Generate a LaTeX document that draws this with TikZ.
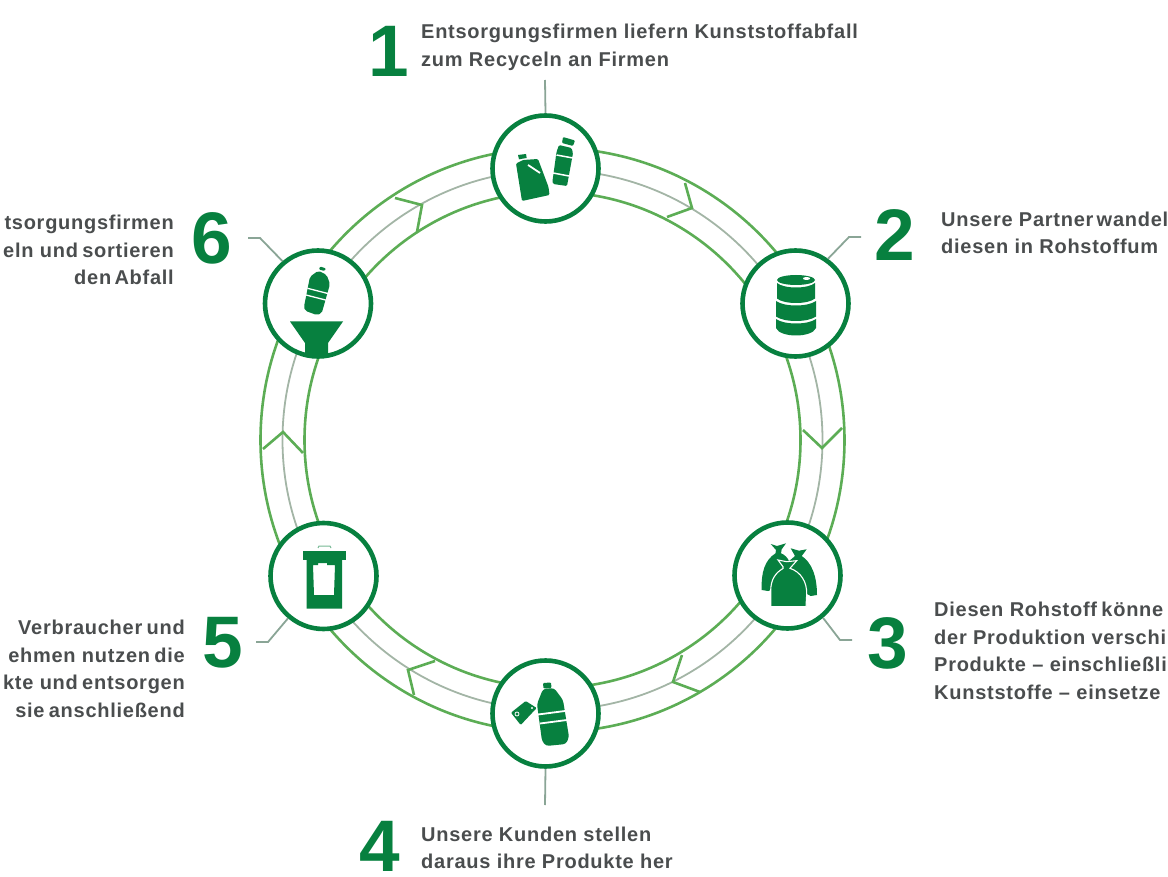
\documentclass[tikz,border=0pt]{standalone}
\usepackage{fontspec}
\setmainfont{Liberation Sans}
\newfontfamily\capfont{Liberation Sans}[LetterSpace=3.7]
\newcommand{\nar}[1]{\hspace{-#1pt}}
\definecolor{dgreen}{HTML}{07803F}
\definecolor{rgreen}{HTML}{5CAD55}
\definecolor{midgrey}{HTML}{A3B5A6}
\definecolor{leader}{HTML}{8AA596}
\definecolor{txt}{HTML}{4A4D4E}
\tikzset{
  station/.style={circle,draw=dgreen,line width=4.6pt,fill=white,minimum size=106pt,inner sep=0pt},
  ringline/.style={draw=rgreen,line width=2.6pt},
  midline/.style={draw=midgrey,line width=1.8pt},
  chev/.style={draw=rgreen,line width=2.6pt,line join=miter},
  leaderline/.style={draw=leader,line width=1.8pt},
  bignum/.style={text=dgreen,font=\bfseries\fontsize{73}{73}\selectfont,inner sep=0pt},
  caption/.style={text=txt,font=\capfont\bfseries\fontsize{20}{27.6}\selectfont,inner sep=0pt},
  icon/.style={fill=dgreen,draw=none},
  cut/.style={draw=white,line width=1.5pt,line cap=butt},
}
\begin{document}
\begin{tikzpicture}[x=1pt,y=-1pt]
\useasboundingbox (0,0) rectangle (1168,877);
% ring
\coordinate (ctr) at (552.5,440);
\draw[ringline] (ctr) circle[radius=292];
\draw[ringline] (ctr) circle[radius=248];
\draw[midline] (ctr) circle[radius=270];
% chevrons
\draw[chev] (803,430) -- (822,448) -- (842,428);
\draw[chev] (263,449) -- (283,432) -- (303,453);
\draw[chev] (685,183) -- (692,208) -- (667,217);
\draw[chev] (395,198) -- (422,205) -- (417,232);
\draw[chev] (682,655) -- (673,682) -- (700,692);
\draw[chev] (435,661) -- (408,670) -- (414,695);
% stations
\node[station] (s1) at (545.5,168.5) {};
\node[station] (s2) at (795.5,303.5) {};
\node[station] (s3) at (787.5,575.5) {};
\node[station] (s4) at (545.5,713.5) {};
\node[station] (s5) at (323.5,576) {};
\node[station] (s6) at (318,303.5) {};
% leaders
\coordinate (l1) at (545,80);
\coordinate (l4) at (545,805);
\coordinate (l2a) at (849,237); \coordinate (l2b) at (861,237);
\coordinate (l3a) at (840,640); \coordinate (l3b) at (852,640);
\coordinate (l5a) at (268,642); \coordinate (l5b) at (256,642);
\coordinate (l6a) at (260,238); \coordinate (l6b) at (248,238);
\draw[leaderline] (s1.north) -- (l1);
\draw[leaderline] (s4.south) -- (l4);
\draw[leaderline] (s2.54) -- (l2a) -- (l2b);
\draw[leaderline] (s3.-50) -- (l3a) -- (l3b);
\draw[leaderline] (s5.230) -- (l5a) -- (l5b);
\draw[leaderline] (s6.130) -- (l6a) -- (l6b);
% icon 1: canister and bottle
\fill[icon,rounded corners=1.2pt] (516,163.5) -- (523,160) -- (538,159) -- (548.5,187) -- (549.5,195) -- (522,201) -- cycle;
\fill[icon] (518,155) -- (526,154) -- (526.7,158) -- (519,159.3) -- cycle;
\draw[cut,line width=1.8pt] (528,165) -- (540,173);
\fill[icon,rounded corners=1pt] (563,137) -- (575,140.5) -- (573,146) -- (562,143) -- cycle;
\fill[icon,rounded corners=1.2pt] (559,145) -- (571.5,148) -- (573,153) -- (567,186) -- (553,184) -- (552.5,181) -- (556.5,152) -- cycle;
\draw[cut] (556.5,155) -- (573,158);
\draw[cut] (553,173) -- (569,176);
% icon 2: barrel
\fill[icon] (777,280) arc[start angle=180,end angle=360,x radius=19,y radius=5] arc[start angle=0,end angle=180,x radius=19,y radius=5] -- cycle;
\fill[icon] (777,283) .. controls (784,289) and (808,289) .. (815,283) -- (815,298.5) .. controls (808,304.5) and (784,304.5) .. (777,298.5) -- cycle;
\fill[icon] (776,301) .. controls (784,307) and (808,307) .. (816,301) -- (816,316.5) .. controls (808,322.5) and (784,322.5) .. (776,316.5) -- cycle;
\fill[icon] (776,319) .. controls (784,325) and (808,325) .. (816,319) -- (816,328) .. controls (812,338) and (780,338) .. (776,328) -- cycle;
\fill[white] (806.5,278.5) ellipse[x radius=3.5,y radius=1.5];
% icon 3: bags
\fill[icon] (770.7,544) -- (777,546) -- (786,543.3) -- (781.7,549.3) -- (781,553.3) .. controls (788,556) and (795,565) .. (787,585) -- (768,591) -- (761.7,590) .. controls (761,572) and (765,560) .. (775.5,553.3) -- (776,550) -- cycle;
\fill[icon] (790.7,548.3) -- (799,550.7) -- (806.7,549.3) -- (801.7,556) .. controls (811,562) and (817,575) .. (817,595) -- (810.7,596) -- (790,585) -- (788,562) -- (795,556) -- cycle;
\fill[icon,draw=white,line width=1.1pt] (778,560) -- (786.7,561.7) -- (796.7,560.7) -- (790,568.3) .. controls (801,572) and (807,582) .. (806.7,594) -- (806,606.7) -- (770.7,606.7) -- (770.7,590) .. controls (771,580) and (775,573) .. (783,568.5) -- (783,566.7) -- cycle;
% icon 4: bottle and tag
\fill[icon,rounded corners=1pt] (543,683) -- (551,682.5) -- (551.5,688) -- (543.5,688.5) -- cycle;
\fill[icon,rounded corners=3pt] (543,689) -- (554,688) -- (563,700) -- (569,737) -- (566,744) -- (546,746) -- (542,741) -- (537,704) -- cycle;
\draw[cut,line width=1.8pt] (538,714.5) -- (565,711);
\draw[cut,line width=1.8pt] (540,723.5) -- (567,720);
\fill[icon,rounded corners=1pt] (511,712.7) -- (525.7,701) -- (536.7,708) -- (520.7,725) -- cycle;
\fill[white] (532,708) circle[radius=1.2];
\draw[white,line width=.8pt] (517,714) circle[radius=2];
% icon 5: bin
\draw[dgreen!55,line width=1pt] (318,548) -- (319,546) -- (330,546) -- (331,548);
\fill[icon] (302.5,551) rectangle (345.5,560);
\fill[icon,even odd rule] (306.5,560) rectangle (342,608.5) (313,565) -- (318,565) -- (318,563) -- (327,563) -- (327,565) -- (335,565) -- (334,595) -- (314,595) -- cycle;
% icon 6: funnel and bottle
\fill[icon] (290,321.5) -- (343,321.5) -- (328,343) -- (328,356) -- (305,356) -- (305,343) -- cycle;
\fill[icon,rounded corners=1pt] (320,266.5) -- (326,268.5) -- (324.5,271) -- (319,269.5) -- cycle;
\fill[icon,rounded corners=2pt] (310,276.7) -- (318.3,270.7) -- (326.7,275) -- (330,284) -- (321.7,313.3) -- (316.7,315) -- (305,310.7) -- (304,306.7) -- cycle;
\draw[cut,line width=1.3pt] (307.5,288.3) -- (329,293.8);
\draw[cut,line width=1.3pt] (306,295) -- (327.5,300.5);
% numbers
\node[bignum] (n1) at (389,51.5) {1};
\node[bignum] (n2) at (895,235) {2};
\node[bignum] (n3) at (888,643.5) {3};
\node[bignum] (n4) at (380,846) {4};
\node[bignum] (n5) at (223,643) {5};
\node[bignum] (n6) at (212,238) {6};
% captions
\node[caption,anchor=west,align=left] (t1) at (421,47.5) {Entsorgungsfirmen liefern Kunststoffabfall\\zum Recyceln an Firmen};
\node[caption,anchor=west,align=left] (t2) at (941,233) {Unsere Partner\nar{3} wandel\\diesen in Rohstoffum};
\node[caption,anchor=west,align=left] (t3) at (934,651) {Diesen Rohstoff\nar{2} könne\\der Produktion verschi\\Produkte – einschließli\\Kunststoffe – einsetze};
\node[caption,anchor=west,align=left] (t4) at (421,848) {Unsere Kunden stellen\\daraus ihre Produkte her};
\node[caption,anchor=east,align=right] (t5) at (185,669) {Verbraucher\nar{2} und\\ehmen nutzen\nar{2} die\\kte und\nar{2} entsorgen\\sie\nar{2} anschließend};
\node[caption,anchor=east,align=right] (t6) at (174,250) {tsorgungsfirmen\\eln und\nar{2} sortieren\\den\nar{3} Abfall};
\end{tikzpicture}
\end{document}
